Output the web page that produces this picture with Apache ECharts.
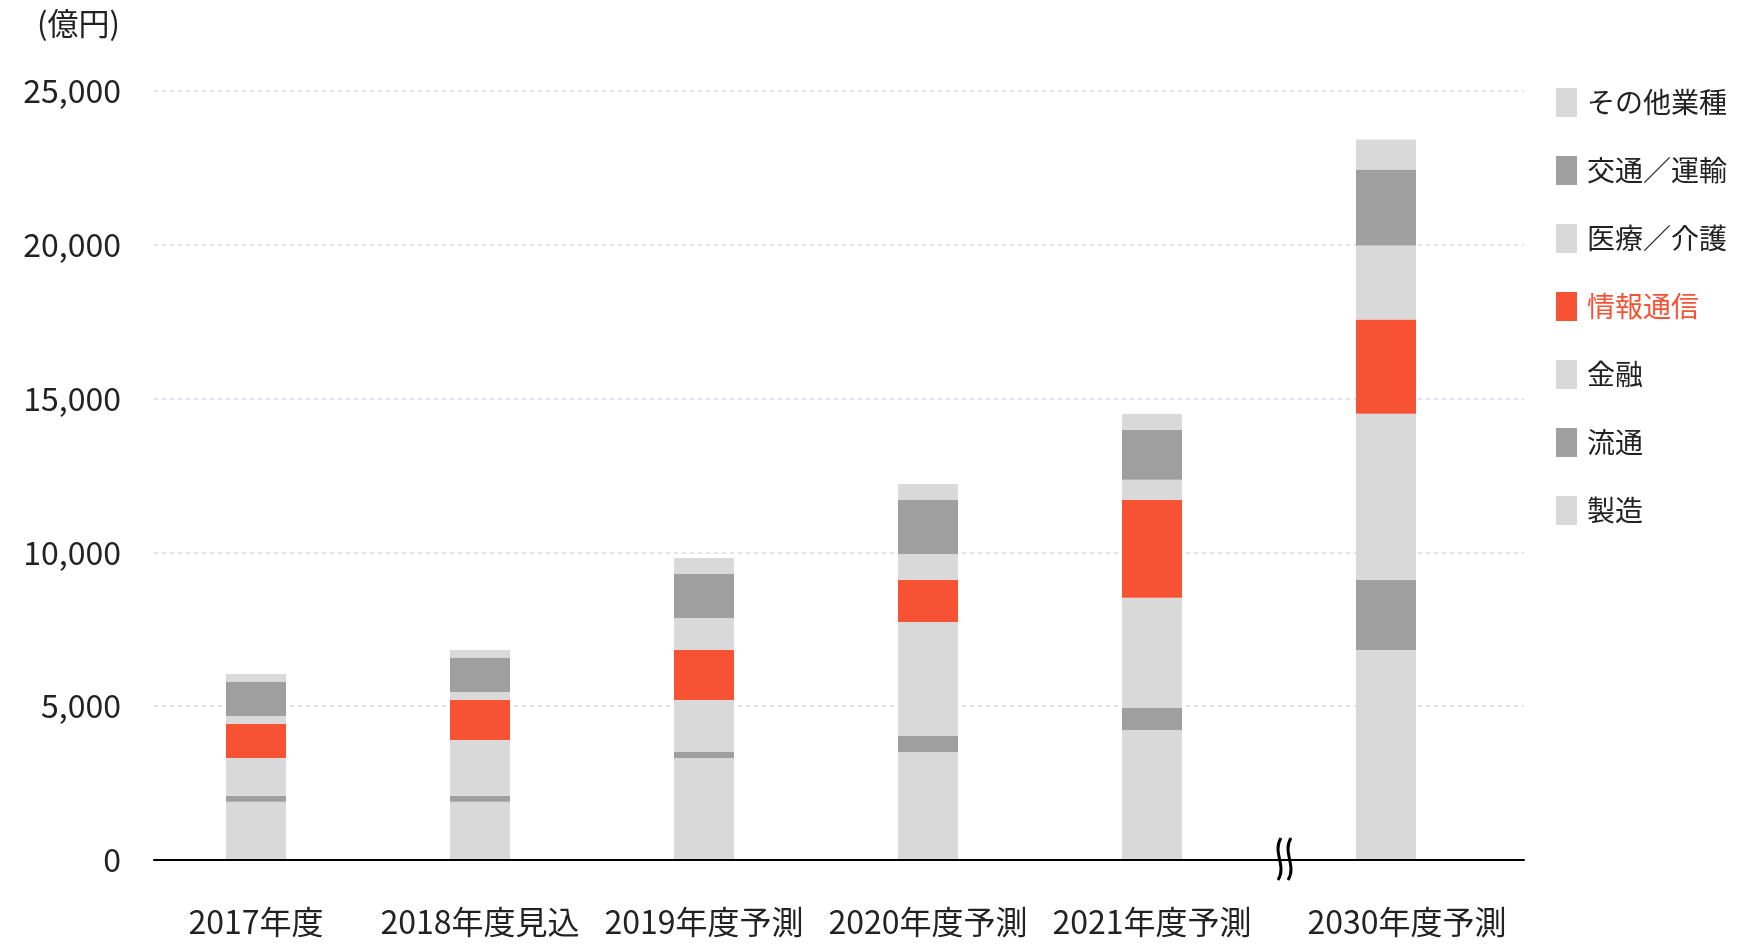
<!DOCTYPE html>
<html>
<head>
<meta charset="utf-8">
<script src="https://cdn.jsdelivr.net/npm/echarts@6/dist/echarts.min.js"></script>
<style>
html,body{margin:0;padding:0;background:#fff;}
#c{width:1742px;height:944px;}
</style>
</head>
<body>
<div id="c"></div>
<script>
const categories = ['2017年度','2018年度見込','2019年度予測','2020年度予測','2021年度予測','2030年度予測'];
const seriesNames = ['製造','流通','金融','情報通信','医療／介護','交通／運輸','その他業種'];
const manufacturing = [1890, 1890, 3320, 3510, 4230, 6830];
const distribution  = [195, 195, 195, 520, 715, 2280];
const finance       = [1235, 1820, 1690, 3710, 3580, 5400];
const infoComm      = [1105, 1300, 1625, 1365, 3190, 3060];
const medical       = [260, 260, 1040, 845, 650, 2410];
const transport     = [1105, 1105, 1430, 1755, 1625, 2470];
const others        = [260, 260, 520, 520, 520, 975];
const yMin = 0, yMax = 25000, yInterval = 5000;
const unitLabel = '(億円)';
const breakAt = 5; // categories after the axis break

const LIGHT = '#d9d9d9', DARK = '#9f9f9f', ORANGE = '#f85234';
const colors = [LIGHT, DARK, LIGHT, ORANGE, LIGHT, DARK, LIGHT];
const values = [manufacturing, distribution, finance, infoComm, medical, transport, others];
const FONT = '"Noto Sans CJK JP", "Noto Sans", sans-serif';

const chart = echarts.init(document.getElementById('c'), null, {renderer: 'canvas'});
const series = [];
[0, 1].forEach(g => {
  seriesNames.forEach((n, i) => {
    series.push({
      name: n, type: 'bar', stack: 'total' + g, xAxisIndex: g, yAxisIndex: g,
      barWidth: 60, data: g === 0 ? values[i].slice(0, breakAt) : values[i].slice(breakAt),
      itemStyle: {color: colors[i]}, z: 2
    });
  });
});

const legendOrder = ['その他業種','交通／運輸','医療／介護','情報通信','金融','流通','製造'];
const labelBase = {interval: 0, fontSize: 32, color: '#222', margin: 46, fontFamily: FONT};
const hiddenY = {type: 'value', min: yMin, max: yMax, interval: yInterval,
  axisLine: {show: false}, axisTick: {show: false}, axisLabel: {show: false}, splitLine: {show: false}};

chart.setOption({
  animation: false,
  textStyle: {fontFamily: FONT},
  title: {text: unitLabel, left: 32, top: 3, textStyle: {fontSize: 31, fontWeight: 'normal', color: '#222', fontFamily: FONT}},
  grid: [
    {left: 144, right: 478, top: 91, bottom: 84},
    {left: 1274, right: 244, top: 91, bottom: 84},
    {left: 154, right: 218, top: 91, bottom: 84}
  ],
  legend: {
    orient: 'vertical', left: 1556, top: 88, padding: 0,
    itemWidth: 21, itemHeight: 29, itemGap: 39, icon: 'rect',
    textStyle: {fontSize: 28, color: '#222', fontFamily: FONT, padding: [0,0,0,5]},
    data: legendOrder.map(n => n === '情報通信' ? {name: n, textStyle: {color: ORANGE}} : {name: n}),
    selectedMode: false
  },
  xAxis: [
    {type: 'category', gridIndex: 0, data: categories.slice(0, breakAt),
     axisLine: {show: false}, axisTick: {show: false}, axisLabel: labelBase},
    {type: 'category', gridIndex: 1, data: categories.slice(breakAt),
     axisLine: {show: false}, axisTick: {show: false},
     axisLabel: Object.assign({}, labelBase, {formatter: v => '{s|' + v + '}',
       rich: {s: {fontSize: 32, color: '#222', fontFamily: FONT, padding: [0, 0, 0, 42]}}})},
    {type: 'category', gridIndex: 2, data: categories, z: 10,
     axisLine: {show: true, lineStyle: {color: '#000', width: 2}},
     axisTick: {show: false}, axisLabel: {show: false}}
  ],
  yAxis: [
    Object.assign({gridIndex: 0}, hiddenY),
    Object.assign({gridIndex: 1}, hiddenY),
    {type: 'value', gridIndex: 2, min: yMin, max: yMax, interval: yInterval,
     axisLine: {show: false}, axisTick: {show: false},
     axisLabel: {fontSize: 32, color: '#222', margin: 33, fontFamily: FONT,
       formatter: v => v.toLocaleString('en-US')},
     splitLine: {show: true, lineStyle: {color: '#e2e0f6', width: 2, type: [4, 4]}}}
  ],
  graphic: [
    {type: 'bezierCurve', z: 20, shape: {x1: 1281, y1: 838, x2: 1278, y2: 880, cpx1: 1272, cpy1: 852, cpx2: 1287, cpy2: 866},
     style: {stroke: '#000', lineWidth: 3, fill: null}},
    {type: 'bezierCurve', z: 20, shape: {x1: 1291, y1: 838, x2: 1288, y2: 880, cpx1: 1282, cpy1: 852, cpx2: 1297, cpy2: 866},
     style: {stroke: '#000', lineWidth: 3, fill: null}}
  ],
  series: series
});
</script>
</body>
</html>
